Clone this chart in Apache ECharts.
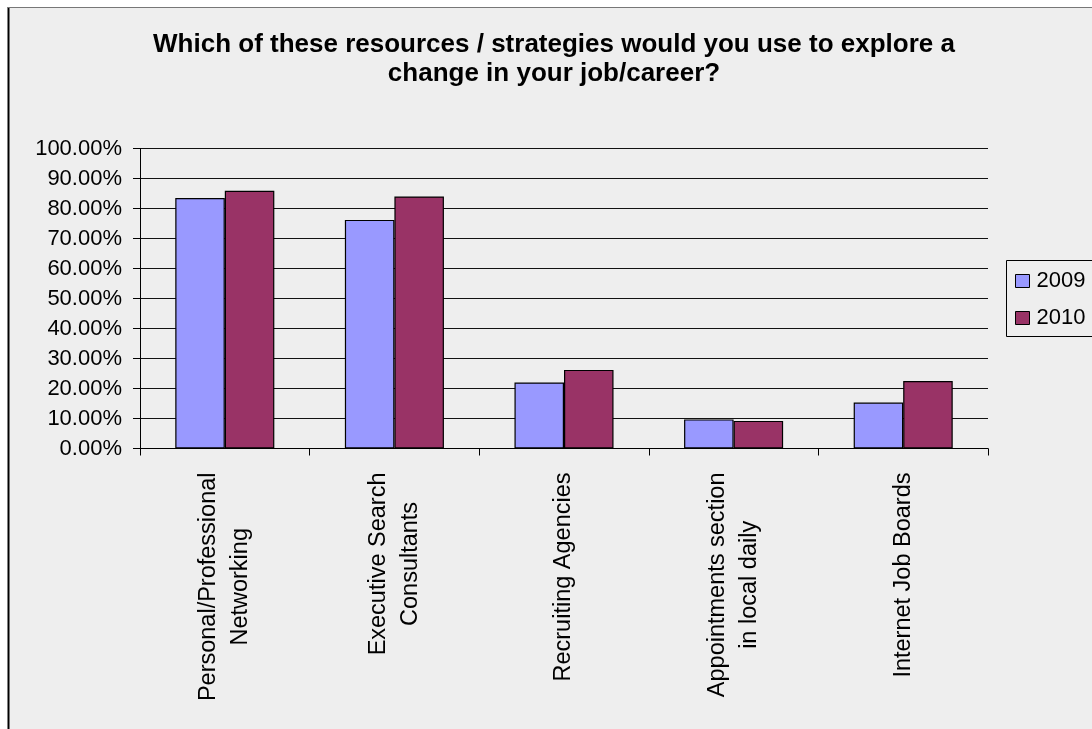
<!DOCTYPE html>
<html>
<head>
<meta charset="utf-8">
<title>Job/career change resources</title>
<script src="https://cdn.jsdelivr.net/npm/echarts@6/dist/echarts.min.js"></script>
<style>
  html, body { margin: 0; padding: 0; background: #ffffff; }
  #chart { width: 1092px; height: 729px; }
</style>
</head>
<body>
<div id="chart"></div>
<script>
// Survey categories (line breaks mark wrapped axis labels)
const categories = [
  'Personal/Professional\nNetworking',
  'Executive Search\nConsultants',
  'Recruiting Agencies',
  'Appointments section\nin local daily',
  'Internet Job Boards'
];
// Share of respondents, in percent
const values2009 = [83.5, 76.2, 22.0, 9.7, 15.3];
const values2010 = [85.9, 84.0, 26.2, 9.2, 22.5];
const seriesNames = ['2009', '2010'];
const titleText = 'Which of these resources / strategies would you use to explore a\nchange in your job/career?';

const FONT = '"Liberation Sans", Arial, Helvetica, sans-serif';
const chart = echarts.init(document.getElementById('chart'), null, { renderer: 'canvas' });

chart.setOption({
  backgroundColor: '#ffffff',
  animation: false,
  textStyle: { fontFamily: FONT, color: '#000' },
  graphic: [
    // chart frame
    { type: 'rect', z: -10, silent: true,
      shape: { x: 8, y: 7.5, width: 1200, height: 800 },
      style: { fill: '#eeeeee', stroke: null } },
    { type: 'line', z: -9, silent: true,
      shape: { x1: 8.5, y1: 7, x2: 8.5, y2: 729 },
      style: { stroke: '#000', lineWidth: 2 } },
    { type: 'line', z: -9, silent: true,
      shape: { x1: 8, y1: 7.5, x2: 1092, y2: 7.5 },
      style: { stroke: '#777', lineWidth: 1 } },
    // legend frame, running past the right edge of the frame
    { type: 'rect', z: -8, silent: true,
      shape: { x: 1006.5, y: 260.5, width: 120, height: 76 },
      style: { fill: '#eeeeee', stroke: '#000', lineWidth: 1 } }
  ],
  title: {
    text: titleText,
    left: 554,
    top: 31,
    padding: 0,
    textAlign: 'center',
    textStyle: {
      fontFamily: FONT,
      fontSize: 26,
      fontWeight: 'bold',
      lineHeight: 28.5,
      color: '#000'
    }
  },
  legend: {
    data: seriesNames,
    orient: 'vertical',
    left: 1015,
    top: 270,
    padding: 0,
    itemGap: 15,
    itemWidth: 14,
    itemHeight: 13,
    icon: 'rect',
    borderWidth: 0,
    itemStyle: { borderColor: '#000', borderWidth: 1 },
    textStyle: { fontFamily: FONT, fontSize: 22, lineHeight: 22, color: '#000', padding: [0, 0, 0, 2] }
  },
  grid: {
    left: 140,
    right: 104,
    top: 148.5,
    bottom: 280.5,
    containLabel: false
  },
  xAxis: {
    type: 'category',
    data: categories,
    boundaryGap: true,
    axisLine: { show: true, lineStyle: { color: '#000', width: 1 } },
    axisTick: { show: true, length: 7, alignWithLabel: false, interval: 0, lineStyle: { color: '#000' } },
    splitLine: { show: false },
    axisLabel: {
      interval: 0,
      rotate: 90,
      margin: 24,
      formatter: function (v) {
        return v.split('\n').map(function (line) { return '{c|' + line + '}'; }).join('\n');
      },
      rich: {
        c: {
          align: 'center',
          fontFamily: FONT,
          fontSize: 23.5,
          lineHeight: 32,
          color: '#000'
        }
      }
    }
  },
  yAxis: {
    type: 'value',
    min: 0,
    max: 100,
    interval: 10,
    axisLine: { show: true, lineStyle: { color: '#000', width: 1 } },
    axisTick: { show: true, length: 7, lineStyle: { color: '#000' } },
    splitLine: { show: true, lineStyle: { color: '#111', width: 1 } },
    axisLabel: {
      margin: 18,
      fontFamily: FONT,
      fontSize: 22,
      color: '#000',
      formatter: function (v) { return v.toFixed(2) + '%'; }
    }
  },
  series: [
    {
      name: seriesNames[0],
      type: 'bar',
      data: values2009,
      barGap: '0%',
      barCategoryGap: '41.6%',
      itemStyle: { color: '#9999ff', borderColor: '#000', borderWidth: 1.2 }
    },
    {
      name: seriesNames[1],
      type: 'bar',
      data: values2010,
      barGap: '0%',
      barCategoryGap: '41.6%',
      itemStyle: { color: '#993366', borderColor: '#000', borderWidth: 1.2 }
    }
  ]
});
</script>
</body>
</html>
